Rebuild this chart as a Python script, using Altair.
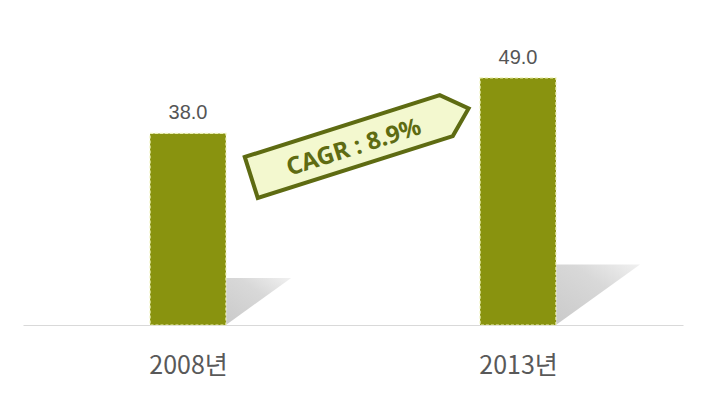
import json
import altair as alt
import pandas as pd

# ---- data ----
years = ["2008년", "2013년"]
values = [38.0, 49.0]
value_labels = ["38.0", "49.0"]
cagr_text = "CAGR : 8.9%"

BAR_HALF = 0.115          # half bar width in category units
SHADOW_H = 0.245          # shadow height relative to bar value
SHADOW_S = 0.0052         # shadow horizontal reach per unit of value

df = pd.DataFrame({"year": years, "value": values, "label": value_labels})
df["pos"] = [i + 0.5 for i in range(len(years))]
df["x0"] = df["pos"] - BAR_HALF
df["x1"] = df["pos"] + BAR_HALF

rows = []
for _, r in df.iterrows():
    h = r.value * SHADOW_H
    s = r.value * SHADOW_S
    rows.append({"year": r.year, "x": r.x1, "top": h, "bot": 0.0})
    rows.append({"year": r.year, "x": r.x1 + s, "top": h, "bot": h})
shadow_df = pd.DataFrame(rows)

ann_df = pd.DataFrame({"bx": [1.021], "by": [36.1], "tx": [1.003], "ty": [35.1], "text": [cagr_text]})

xs = alt.Scale(domain=[0, 2], nice=False, zero=False)
ys = alt.Scale(domain=[0, 59.5], nice=False, zero=True)

label_expr = json.dumps(years, ensure_ascii=False) + "[floor(datum.value)]"

shadow = alt.Chart(shadow_df).mark_area(
    color=alt.Gradient(
        gradient="linear", x1=0, y1=1, x2=1, y2=0,
        stops=[alt.GradientStop(color="#c4c4c4", offset=0),
               alt.GradientStop(color="#d4d4d4", offset=0.6),
               alt.GradientStop(color="#efefef", offset=1)]),
    opacity=0.9,
).encode(
    x=alt.X("x:Q", scale=xs, axis=None),
    y=alt.Y("top:Q", scale=ys, axis=None),
    y2="bot:Q",
    detail="year:N",
)

bars = alt.Chart(df).mark_rect(
    color="#89930f", stroke="#eef2b8", strokeWidth=1.2, strokeDash=[3, 2]
).encode(
    x=alt.X("x0:Q", scale=xs, axis=alt.Axis(
        values=[0.5, 1.5], labelExpr=label_expr, ticks=False, grid=False,
        domainColor="#d9d9d9", domainWidth=1, labelFontSize=25,
        labelColor="#595959", labelFont="Noto Sans CJK KR", labelPadding=40,
        labelBaseline="middle", title=None)),
    x2="x1:Q",
    y=alt.Y("value:Q", scale=ys, axis=None),
    y2=alt.datum(0),
)

vlabels = alt.Chart(df).mark_text(
    font="Liberation Sans", fontSize=20, color="#555555", dy=-14, baseline="alphabetic"
).encode(
    x=alt.X("pos:Q", scale=xs, axis=None),
    y=alt.Y("value:Q", scale=ys, axis=None),
    text="label:N",
)

banner_path = "M -1 -0.1886 L 0.7947 -0.1886 L 1 0 L 0.7947 0.1886 L -1 0.1886 Z"
banner = alt.Chart(ann_df).mark_point(
    shape=banner_path, size=51984, angle=342.4, filled=True,
    fill="#f3f8cf", stroke="#5e6b12", strokeWidth=4, opacity=1, strokeJoin="miter",
).encode(
    x=alt.X("bx:Q", scale=xs, axis=None),
    y=alt.Y("by:Q", scale=ys, axis=None),
)

btext = alt.Chart(ann_df).mark_text(
    font="Noto Sans", fontWeight="bold", fontSize=24, color="#5e6b12", angle=342.4,
    align="center", baseline="middle",
).encode(
    x=alt.X("tx:Q", scale=xs, axis=None),
    y=alt.Y("ty:Q", scale=ys, axis=None),
    text="text:N",
)

chart = alt.layer(shadow, bars, vlabels, banner, btext).resolve_axis(
    x="independent", y="independent"
).properties(
    width=660, height=300,
    autosize=alt.AutoSizeParams(type="none"),
    padding={"left": 15, "top": 17, "right": 10, "bottom": 60},
).configure_view(stroke=None)

chart.save("out.html", embed_options={"renderer": "svg", "actions": False})
